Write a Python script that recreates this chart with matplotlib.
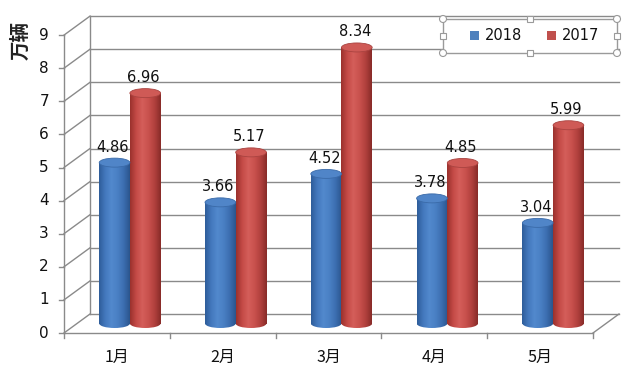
import numpy as np
import matplotlib
matplotlib.use("Agg")
import matplotlib.pyplot as plt
from matplotlib.patches import Ellipse, Rectangle
from matplotlib.colors import LinearSegmentedColormap

plt.rcParams['font.family'] = ['DejaVu Sans', 'Noto Sans CJK SC']

categories = ['1月', '2月', '3月', '4月', '5月']
series_names = ['2018', '2017']
values_2018 = [4.86, 3.66, 4.52, 3.78, 3.04]
values_2017 = [6.96, 5.17, 8.34, 4.85, 5.99]
yticks = list(range(0, 10))
ylabel = '万辆'

W, H = 640, 381
fig = plt.figure(figsize=(W / 100, H / 100), dpi=100)
ax = fig.add_axes([0, 0, 1, 1])
px_cat = 105.8   # pixels per category
px_val = 33.1    # pixels per unit
x0_px, y0_px = 64, 333
ax.set_xlim(-x0_px / px_cat, (W - x0_px) / px_cat)
ax.set_ylim((y0_px - H) / px_val, y0_px / px_val)
ax.axis('off')

dx = 26 / px_cat   # depth offset (x)
dy = 19 / px_val   # depth offset (y)
n = len(categories)
ymax = yticks[-1]
gcol = '#8a8a8a'
lw = 1.0

# back wall gridlines and left wall diagonals
for v in yticks:
    ax.plot([dx, n + dx], [v + dy, v + dy], color=gcol, lw=lw, zorder=1)
    ax.plot([0, dx], [v, v + dy], color=gcol, lw=lw, zorder=1)
# wall verticals
ax.plot([0, 0], [0, ymax], color=gcol, lw=lw, zorder=1)
ax.plot([dx, dx], [dy, ymax + dy], color=gcol, lw=lw, zorder=1)
# floor
ax.plot([0, n], [0, 0], color=gcol, lw=lw, zorder=1)
ax.plot([n, n + dx], [0, dy], color=gcol, lw=lw, zorder=1)

# ticks
for i in range(n + 1):
    ax.plot([i, i], [0, -5 / px_val], color=gcol, lw=lw, zorder=1)
for v in yticks:
    ax.plot([0, -5 / px_cat], [v, v], color=gcol, lw=lw, zorder=1)
    ax.annotate(str(v), xy=(0, v), xytext=(-15, 0), textcoords='offset pixels',
                ha='right', va='center', fontsize=11, color='#111111')

for i, c in enumerate(categories):
    ax.annotate(c, xy=(i + 0.5, 0), xytext=(0, -24), textcoords='offset pixels',
                ha='center', va='center', fontsize=11.5,
                family=['Noto Sans CJK SC', 'DejaVu Sans'], color='#111111')

fig.text(21 / W, 1 - 41 / H, ylabel, rotation=90, ha='center', va='center',
         fontsize=14, fontweight='bold', family=['Noto Sans CJK SC'], color='#222222')

# cylinders
bw = 0.29
base = dy / 2
eh = 9 / px_val
centers = np.arange(n) + 0.5 + dx / 2
series = [values_2018, values_2017]
offsets = [-bw / 2, bw / 2]
grads = [
    ['#2e5c99', '#4378bd', '#5289cd', '#4a80c4', '#3c6eb0', '#2a548c'],
    ['#99302d', '#c44a46', '#d45e5a', '#c9514d', '#b1403d', '#872b28'],
]
tops = ['#5085c8', '#cf5a56']
edges = ['#3a6aa8', '#a94340']
gradient = np.linspace(0, 1, 256).reshape(1, -1)
for s, vals in enumerate(series):
    cmap = LinearSegmentedColormap.from_list('g%d' % s, grads[s])
    xs = centers + offsets[s]
    bars = ax.bar(xs, vals, bw, bottom=base, color=grads[s][1], linewidth=0, zorder=3)
    for xc, v, b in zip(xs, vals, bars):
        be = Ellipse((xc, base), bw, eh, facecolor='none', edgecolor='none', zorder=3)
        ax.add_patch(be)
        for clip in (b, be):
            im = ax.imshow(gradient, cmap=cmap, aspect='auto', zorder=3,
                           extent=(xc - bw / 2, xc + bw / 2, base - eh, base + v),
                           interpolation='bilinear')
            im.set_clip_path(clip)
        te = Ellipse((xc, base + v), bw, eh, facecolor=tops[s], edgecolor=edges[s],
                     linewidth=0.6, zorder=4)
        ax.add_patch(te)
        ax.annotate('%.2f' % v, xy=(xc, base + v), xytext=(-2, 8), textcoords='offset pixels',
                    ha='center', va='bottom', fontsize=10.5, color='#111111', zorder=5)

ax.set_xlim(-x0_px / px_cat, (W - x0_px) / px_cat)
ax.set_ylim((y0_px - H) / px_val, y0_px / px_val)

# legend box (shown selected in the original)
fig_tr = fig.transFigure
def fx(p): return p / W
def fy(p): return 1 - p / H
lx0, lx1, ly0, ly1 = 443, 617, 19, 53
rect = Rectangle((fx(lx0), fy(ly1)), fx(lx1) - fx(lx0), fy(ly0) - fy(ly1),
                 transform=fig_tr, facecolor='white', edgecolor='#9a9a9a', lw=1.0, zorder=10)
fig.add_artist(rect)
for (px, py) in [(lx0, ly0), (lx1, ly0), (lx0, ly1), (lx1, ly1)]:
    fig.add_artist(Ellipse((fx(px), fy(py)), 7 / W, 7 / H, transform=fig_tr,
                           facecolor='white', edgecolor='#9a9a9a', lw=0.8, zorder=11))
for (px, py) in [((lx0 + lx1) / 2, ly0), ((lx0 + lx1) / 2, ly1),
                 (lx0, (ly0 + ly1) / 2), (lx1, (ly0 + ly1) / 2)]:
    fig.add_artist(Rectangle((fx(px - 3), fy(py + 3)), 6 / W, 6 / H, transform=fig_tr,
                             facecolor='white', edgecolor='#9a9a9a', lw=0.8, zorder=11))
leg_cols = ['#4f81bd', '#c0504d']
leg_x = [470, 547]
for name, col, x in zip(series_names, leg_cols, leg_x):
    fig.add_artist(Rectangle((fx(x), fy(40)), 9 / W, 9 / H, transform=fig_tr,
                             facecolor=col, edgecolor='none', zorder=11))
    fig.text(fx(x + 15), fy(36), name, ha='left', va='center', fontsize=10.5,
             color='#111111', zorder=12)

fig.savefig('out.png', dpi=100)
